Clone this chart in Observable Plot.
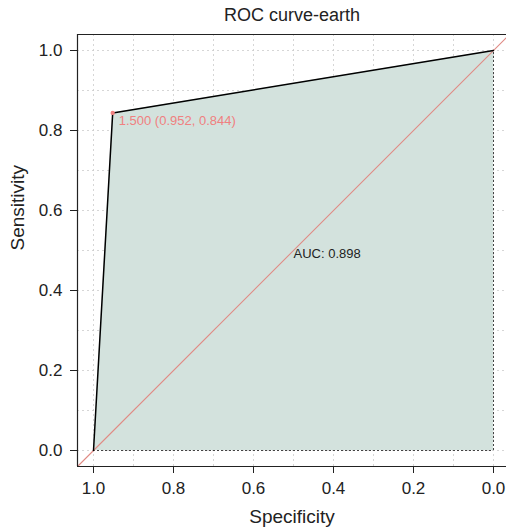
<!DOCTYPE html>
<html><head><meta charset="utf-8">
<script src="https://cdn.jsdelivr.net/npm/d3@7"></script>
<script src="https://cdn.jsdelivr.net/npm/@observablehq/plot@0.6"></script>
<style>body{margin:0;background:#fff;overflow:hidden}</style>
</head><body><div id="chart"></div>
<script>
const title = "ROC curve-earth";
const xLabel = "Specificity";
const yLabel = "Sensitivity";
const specificity = [1.0, 0.952, 0.0];
const sensitivity = [0.0, 0.844, 1.0];
const bestPoint = [{spec: 0.952, sens: 0.844, label: "1.500 (0.952, 0.844)"}];
const aucLabel = [{spec: 0.5, sens: 0.5, label: "AUC: 0.898"}];
const tickValues = [0, 0.2, 0.4, 0.6, 0.8, 1.0];
const gridValues = [0, 0.1, 0.2, 0.3, 0.4, 0.5, 0.6, 0.7, 0.8, 0.9, 1.0];
const diagSens = [-0.04, 1.04];

const font = "Liberation Sans, Arial, Helvetica, sans-serif";
const curve = specificity.map((s, i) => ({spec: s, sens: sensitivity[i]}));
const diag = [{x1: 1 - diagSens[0], y1: diagSens[0], x2: 1 - diagSens[1], y2: diagSens[1]}];

const chart = Plot.plot({
  width: 506,
  height: 527,
  marginTop: 34,
  marginBottom: 61,
  marginLeft: 77,
  marginRight: 0,
  style: {fontFamily: font, background: "#fff", color: "#222"},
  x: {domain: [1.04, -0.04], range: [77, 509]},
  y: {domain: [-0.04, 1.04]},
  marks: [
    Plot.ruleX(gridValues, {stroke: "#cccccc", strokeDasharray: "2,3", strokeWidth: 0.8}),
    Plot.ruleY(gridValues, {stroke: "#cccccc", strokeDasharray: "2,3", strokeWidth: 0.8}),
    Plot.areaY(curve, {x: "spec", y: "sens", y1: 0, fill: "#d3e2dd"}),
    Plot.ruleX([0], {y1: 0, y2: 1, stroke: "#444", strokeDasharray: "2,2", strokeWidth: 1}),
    Plot.ruleY([0], {x1: 1, x2: 0, stroke: "#444", strokeDasharray: "2,2", strokeWidth: 1}),
    Plot.link(diag, {x1: "x1", y1: "y1", x2: "x2", y2: "y2", stroke: "#e08a84", strokeWidth: 1.1}),
    Plot.line(curve, {x: "spec", y: "sens", stroke: "#000", strokeWidth: 1.5}),
    Plot.dot(bestPoint, {x: "spec", y: "sens", r: 2.2, fill: "#f08080", stroke: null}),
    Plot.text(bestPoint, {x: "spec", y: "sens", text: "label", fill: "#f08080", textAnchor: "start", dx: 6, dy: 8, fontSize: 13}),
    Plot.text(aucLabel, {x: "spec", y: "sens", text: "label", fill: "#222", textAnchor: "start", lineAnchor: "top", dy: -2, fontSize: 13}),
    Plot.ruleX([1.04], {stroke: "#222", strokeWidth: 1.2}),
    Plot.ruleY([-0.04, 1.04], {stroke: "#222", strokeWidth: 1.2}),
    Plot.axisX(tickValues, {tickSize: 7, tickPadding: 8, tickFormat: d3.format(".1f"), fontSize: 17, label: null, stroke: "#222"}),
    Plot.axisY(tickValues, {tickSize: 7, tickPadding: 8, tickFormat: d3.format(".1f"), fontSize: 17, label: null, stroke: "#222"}),
    Plot.text([title], {frameAnchor: "top", dy: -14, fontSize: 18, fill: "#222", lineAnchor: "bottom"}),
    Plot.text([xLabel], {frameAnchor: "bottom", dy: 50, fontSize: 19, fill: "#222", lineAnchor: "middle"}),
    Plot.text([yLabel], {frameAnchor: "left", dx: -60, rotate: -90, fontSize: 19, fill: "#222", lineAnchor: "middle"})
  ]
});
document.getElementById("chart").appendChild(chart);
</script>
</body></html>
